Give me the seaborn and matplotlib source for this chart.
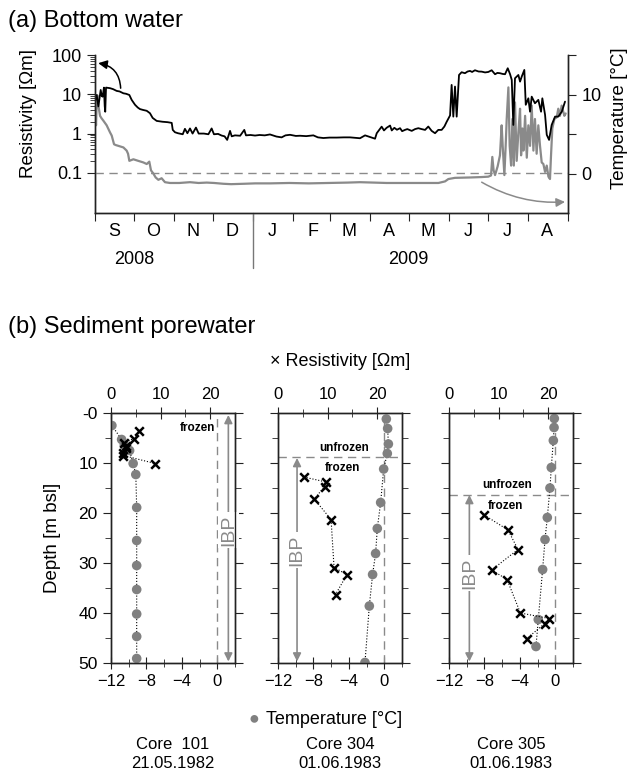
import matplotlib.pyplot as plt
import matplotlib.dates as mdates
import matplotlib.ticker as mticker
import seaborn as sns
import pandas as pd

# (a) bottom water logger, days after 1 Sep 2008
res_day = [0, 1.3, 2.6, 3.5, 4.4, 5.2, 5.9, 6.9, 7.5, 7.9, 8.5, 11.6, 14, 16.7, 19, 21.9, 24, 26.5,
           28.3, 30.9, 33, 34.7, 37, 39.9, 42.4, 44.5, 47.6, 52, 56, 59.2, 60, 61.7, 64, 67.7, 69.4,
           71.3, 73.3, 75.3, 77.9, 80, 84, 87.5, 90, 91.8, 95, 97.7, 100, 102, 104.2, 105.5, 108,
           112, 115.2, 116.5, 120, 123.5, 127, 131, 135, 140, 144, 147, 150.5, 155, 158.2, 163,
           168.5, 172, 176.2, 181, 186.5, 192, 196.8, 201, 204.5, 208.4, 212, 216.1, 217.4, 219,
           221.2, 223, 225, 227.7, 229, 231, 233, 235.4, 237, 239.2, 241, 244.4, 247, 249.5, 252,
           254.7, 257.2, 259.8, 262.4, 264.9, 267.5, 269.6, 271.4, 274, 275.2, 276.5, 277.8, 279.1,
           280.9, 282.9, 285.5, 287.5, 289.4, 291, 293.2, 296, 298.4, 301, 303.5, 306.1, 308.7,
           310.5, 312.5, 314.5, 316.4, 318.5, 320.3, 321.6, 322.8, 324.1, 326.7, 328, 329.3, 331.3,
           332.4, 334.4, 335.7, 337, 339.5, 342.1, 344.2, 345.2, 347.3, 348.6, 350.4, 352.4, 355,
           357.5, 360.2, 362.7]
res_ohm = [6.5, 9.6, 4.9, 8, 12.9, 9, 8.7, 14.8, 5, 3.6, 14.8, 14.3, 13.5, 12.2, 11.8, 10.6, 10.3, 9.6,
           7.2, 5.4, 4.6, 4.2, 4.0, 3.8, 3.3, 2.5, 2.1, 2.0, 1.95, 1.87, 1.24, 1.08, 1.02, 0.96, 1.32,
           1.02, 1.35, 1.0, 1.42, 1.0, 1.0, 0.96, 1.35, 0.96, 0.98, 0.89, 0.85, 0.69, 1.17, 0.85, 0.9,
           0.88, 1.24, 0.9, 0.92, 0.89, 0.92, 0.9, 0.95, 0.84, 0.8, 0.9, 0.93, 0.87, 0.88, 0.86,
           0.9, 0.8, 0.77, 0.79, 0.79, 0.8, 0.8, 0.78, 0.76, 0.9, 0.82, 0.74, 1.02, 1.2,
           1.5, 1.2, 1.4, 1.6, 1.2, 1.4, 1.25, 1.37, 1.15, 1.24, 1.3, 1.17, 1.3, 1.37, 1.3,
           1.24, 1.51, 1.17, 1.02, 1.24, 1.24, 1.51, 2.0, 2.9, 17.3, 2.7, 15.7, 2.7,
           31, 36.4, 34.4, 38, 39.3, 37, 40.9, 38, 37.7, 36, 37, 40.9, 32.4,
           35, 34.4, 33, 32.4, 46, 32.4, 23.2, 1.66, 25.6, 31, 21, 28.2, 41.7,
           5.4, 7.9, 3.6, 8.7, 5.9, 7.2, 3.6, 7.9, 3.0, 0.93, 0.69, 1.66, 2.7,
           2.7, 3.6, 6.5]

temp_day = [0, 0.8, 1.3, 1.8, 2.6, 3.9, 5, 6.4, 9.0, 11.6, 12.9, 14.7, 16, 18, 21.9, 24.4, 25.5, 26.5,
            29.6, 33.4, 37.3, 39.9, 41.9, 43.2, 45, 46.8, 48.9, 51.4, 54, 57.9, 65, 73.3, 80, 86.2,
            92, 99, 105, 115, 123.5, 135, 150, 165, 180, 195, 204.5, 215, 225, 239.2, 255, 265,
            270.1, 272.7, 277.8, 290, 298.4, 303.5, 305.6, 306.6, 307.6, 308.7, 310.7, 312.5, 313.8,
            314.6, 315.9, 316.9, 317.7, 319, 320, 321.1, 322.1, 323.2, 324.1, 325.4, 326.7, 328,
            328.8, 329.8, 330.6, 331.9, 333.2, 334.4, 335.7, 337, 338.3, 339.5, 340.8, 342.1, 343.4,
            344.7, 346, 347.3, 348.6, 349.9, 351.1, 351.9, 352.9, 354.5, 356.3, 357.5, 358.8, 360.1,
            362.2, 363.2]
temp_c = [8.6, 6.1, 9.0, 9.9, 8.6, 7.3, 7.0, 6.7, 6.1, 5.2, 4.8, 3.7, 3.6, 3.5, 3.3, 2.9, 2.5, 1.6,
          1.8, 1.6, 1.4, 1.2, 1.5, 0.4, 0.0, -0.5, -0.8, -0.6, -1.1, -1.2, -1.2, -1.1, -1.2, -1.15,
          -1.2, -1.3, -1.35, -1.3, -1.25, -1.25, -1.2, -1.25, -1.2, -1.15, -1.1, -1.15, -1.2, -1.2, -1.2, -1.2,
          -1.0, -0.7, -0.55, -0.5, -0.45, -0.4, -0.25, 2.1, 0.4, -0.2, 0.9, 2.3, 6.1,
          3.5, -0.2, 3.5, 6.9, 10.9, 3.5, 1.0, 6.9, 1.0, 9.0, 1.6, 5.2, 8.2,
          2.3, 5.7, 2.9, 7.3, 2.0, 6.1, 3.5, 8.6, 2.9, 6.9, 2.5, 6.1, 3.5,
          1.4, 1.2, 0.2, 1.0, -0.4, -0.7, 2.3, 5.7, 6.9, 7.1, 8.2, 7.3, 8.6,
          7.3, 7.6]

# (b) sediment cores
core_names = ['Core  101\n21.05.1982', 'Core 304\n01.06.1983', 'Core 305\n01.06.1983']
core_temp_depth = [[2.5, 5.3, 6.4, 7.5, 10.1, 12.3, 18.9, 25.5, 30.5, 35.3, 40.2, 44.7, 49.1],
                   [1.2, 3.1, 6.2, 8.1, 11.2, 17.9, 23.1, 28.1, 32.3, 38.6, 49.9],
                   [1.1, 2.9, 5.5, 10.9, 15.0, 20.9, 25.3, 31.3, 41.3, 46.7]]
core_temp = [[-11.9, -10.8, -10.5, -9.9, -9.5, -9.2, -9.1, -9.1, -9.1, -9.1, -9.1, -9.1, -9.1],
             [0.23, 0.38, 0.46, 0.34, -0.07, -0.41, -0.79, -0.98, -1.32, -1.69, -2.18],
             [-0.11, -0.14, -0.22, -0.45, -0.6, -0.9, -1.16, -1.43, -1.92, -2.18]]
core_res_depth = [[3.5, 5.1, 5.9, 6.6, 7.0, 8.0, 8.5, 10.1],
                  [12.8, 13.8, 14.7, 17.2, 21.3, 30.9, 32.3, 36.3],
                  [20.4, 23.4, 27.3, 31.4, 33.3, 40.0, 41.1, 42.1, 45.1]]
core_res = [[5.7, 4.7, 2.6, 3.0, 3.0, 2.5, 2.5, 8.9],
            [5.2, 9.7, 9.4, 7.3, 10.7, 11.3, 13.9, 11.6],
            [7.1, 11.9, 13.9, 8.6, 11.7, 14.4, 20.2, 19.3, 15.7]]
frozen_top = [None, 8.8, 16.4]

sns.set_style('ticks')
plt.rcParams['font.family'] = ['Liberation Sans', 'DejaVu Sans']
plt.rcParams.update({'axes.edgecolor': '#222222', 'axes.linewidth': 1.0,
                     'text.color': 'black', 'axes.labelcolor': 'black',
                     'xtick.color': '#222222', 'ytick.color': '#222222',
                     'xtick.labelcolor': 'black', 'ytick.labelcolor': 'black'})

W, H = 637, 771
fig = plt.figure(figsize=(W / 100, H / 100), dpi=100)
GREY = '#8a8a8a'

# ---------------- (a) Bottom water ----------------
start = pd.Timestamp('2008-09-01')
res_dates = start + pd.to_timedelta(res_day, unit='D')
temp_dates = start + pd.to_timedelta(temp_day, unit='D')

ax = fig.add_axes([95 / W, 1 - 213 / H, 473 / W, 158 / H])
ax2 = ax.twinx()
sns.lineplot(x=temp_dates, y=temp_c, ax=ax2, color=GREY, lw=1.6, estimator=None)
sns.lineplot(x=res_dates, y=res_ohm, ax=ax, color='black', lw=1.3, estimator=None)
ax.set_zorder(ax2.get_zorder() + 1)
ax.patch.set_visible(False)

ax.set_yscale('log')
ax.set_ylim(0.0095, 100)
ax2.set_ylim(-5, 15)
ax.set_xlim(mdates.date2num(start), mdates.date2num(pd.Timestamp('2009-09-01')))
ax.axhline(0.1, color=GREY, lw=1, ls=(0, (6, 4)))

for a in (ax, ax2):
    a.spines['top'].set_visible(False)
ax.yaxis.set_major_locator(mticker.FixedLocator([0.1, 1, 10, 100]))
ax.yaxis.set_major_formatter(mticker.FixedFormatter(['0.1', '1', '10', '100']))
ax.yaxis.set_minor_locator(mticker.FixedLocator(
    [m * d for d in (0.1, 1, 10) for m in range(2, 10)]))
ax.yaxis.set_minor_formatter(mticker.NullFormatter())
ax.tick_params(axis='y', which='major', length=6, labelsize=13, direction='out')
ax.tick_params(axis='y', which='minor', length=3.5, direction='out')

ax2.set_yticks([0, 5, 10, 15])
ax2.set_yticklabels(['0', '', '10', ''])
ax2.tick_params(axis='y', length=6, labelsize=13, direction='out')

ax.xaxis.set_major_locator(mdates.MonthLocator())
ax.xaxis.set_major_formatter(mticker.NullFormatter())
ax.xaxis.set_minor_locator(mdates.MonthLocator(bymonthday=16))
ax.xaxis.set_minor_formatter(mticker.FuncFormatter(
    lambda v, pos: mdates.num2date(v).strftime('%b')[0]))
ax.tick_params(axis='x', which='major', length=6, direction='out')
ax.tick_params(axis='x', which='minor', length=0, labelsize=13, pad=7)
ax.set_xlabel('')

xt = ax.get_xaxis_transform()
ax.text(mdates.date2num(pd.Timestamp('2008-10-01')), -0.295, '2008', transform=xt,
        ha='center', va='center', fontsize=13)
ax.text(mdates.date2num(pd.Timestamp('2009-05-01')), -0.295, '2009', transform=xt,
        ha='center', va='center', fontsize=13)
jan = mdates.date2num(pd.Timestamp('2009-01-01'))
ax.plot([jan, jan], [0, -0.345], transform=xt, color='#777777', lw=1, clip_on=False)

ax.set_ylabel('Resistivity [\u03a9m]', fontsize=13.5)
ax.yaxis.set_label_coords(-0.122, 0.63)
ax2.set_ylabel('Temperature [\u00b0C]', fontsize=13.5)
ax2.yaxis.set_label_coords(1.09, 0.6)

ax.annotate('', xy=(mdates.date2num(start + pd.Timedelta(days=2.5)), 62),
            xytext=(mdates.date2num(start + pd.Timedelta(days=19.8)), 14.3),
            arrowprops=dict(arrowstyle='-|>', color='black', lw=1.1, mutation_scale=13,
                            connectionstyle='arc3,rad=0.4', shrinkA=0, shrinkB=0))
ax2.annotate('', xy=(mdates.date2num(start + pd.Timedelta(days=362.7)), -3.6),
             xytext=(mdates.date2num(start + pd.Timedelta(days=298.4)), -1.1),
             arrowprops=dict(arrowstyle='-|>', color=GREY, lw=1.1, mutation_scale=13,
                             connectionstyle='arc3,rad=0.15', shrinkA=0, shrinkB=0))

fig.text(8 / W, 1 - 21 / H, '(a) Bottom water', fontsize=17, va='center', ha='left')

# ---------------- (b) Sediment porewater ----------------
fig.text(8 / W, 1 - 327 / H, '(b) Sediment porewater', fontsize=17, va='center', ha='left')

lefts = [111, 278, 449]
ibp = [(1.25, 0.4, 49.7, 23.4), (-9.85, 9.0, 49.7, 27.4), (-9.7, 16.4, 49.7, 32.0)]
labels_pos = [[('frozen', -0.3, 3.0, 'right')],
              [('unfrozen', -4.5, 7.0, 'center'), ('frozen', -4.75, 11.0, 'center')],
              [('unfrozen', -5.4, 14.4, 'center'), ('frozen', -5.6, 18.6, 'center')]]

for i in range(3):
    bx = fig.add_axes([lefts[i] / W, 1 - 663 / H, 124 / W, 250 / H])
    sns.lineplot(x=core_temp[i], y=core_temp_depth[i], ax=bx, sort=False, estimator=None,
                 color='black', lw=0.8, linestyle=':')
    sns.scatterplot(x=core_temp[i], y=core_temp_depth[i], ax=bx, color='#808080', s=48,
                    edgecolor='none', zorder=3)
    bx.set_xlim(-12, 2)
    bx.set_ylim(50, 0)
    bx.axvline(0, color=GREY, lw=1, ls=(0, (6, 4)), zorder=1)
    if frozen_top[i] is not None:
        bx.axhline(frozen_top[i], color=GREY, lw=1, ls=(0, (6, 4)), zorder=1)

    x, y0, y1, ym = ibp[i]
    bx.annotate('', xy=(x, y0), xytext=(x, y1),
                arrowprops=dict(arrowstyle='<|-|>', color=GREY, lw=1.2, mutation_scale=12,
                                shrinkA=0, shrinkB=0))
    bx.text(x, ym, 'IBP', rotation=90, ha='center', va='center', color=GREY, fontsize=14,
            bbox=dict(fc='white', ec='none', pad=1.5))
    for txt, tx, ty, ha in labels_pos[i]:
        bx.text(tx, ty, txt, ha=ha, va='center', fontsize=8.5, fontweight='bold')

    bx.set_xticks([-12, -8, -4, 0])
    bx.set_xticks([-10, -6, -2, 2], minor=True)
    bx.set_yticks(range(0, 51, 10))
    bx.set_yticks(range(5, 50, 10), minor=True)
    bx.tick_params(axis='x', which='major', direction='inout', length=9, labelsize=12)
    bx.tick_params(axis='x', which='minor', direction='inout', length=6)
    bx.tick_params(axis='y', which='both', left=True, right=True, direction='out')
    bx.tick_params(axis='y', which='major', length=6, labelsize=12.5)
    bx.tick_params(axis='y', which='minor', length=4)
    bx.set_xlabel('')
    if i == 0:
        bx.set_yticklabels(['-0', '10', '20', '30', '40', '50'])
        bx.set_ylabel('Depth [m bsl]', fontsize=13.5)
        bx.yaxis.set_label_coords(-0.40, 0.5)
    else:
        bx.tick_params(axis='y', labelleft=False)
        bx.set_ylabel('')

    tx_ = bx.twiny()
    sns.lineplot(x=core_res[i], y=core_res_depth[i], ax=tx_, sort=False, estimator=None,
                 color='black', lw=0.8, linestyle=':')
    sns.scatterplot(x=core_res[i], y=core_res_depth[i], ax=tx_, marker='x', color='black',
                    s=38, linewidth=1.8, zorder=4)
    tx_.set_xlim(0, 25)
    bx.set_ylim(50, 0)
    tx_.set_xticks([0, 10, 20])
    tx_.set_xticks([5, 15], minor=True)
    tx_.tick_params(axis='x', which='major', direction='inout', length=9, labelsize=12)
    tx_.tick_params(axis='x', which='minor', direction='inout', length=6)
    tx_.set_xlabel('')

    cx = (lefts[i] + 62) / W
    fig.text(cx, 1 - 754 / H, core_names[i], ha='center', va='center', fontsize=12,
             linespacing=1.3)

fig.text(340 / W, 1 - 362 / H, '\u00d7 Resistivity [\u03a9m]', ha='center', va='center',
         fontsize=13)
fig.text(254 / W, 1 - 719 / H, '\u25cf', ha='center', va='center', fontsize=13, color='#808080')
fig.text(266 / W, 1 - 719 / H, 'Temperature [\u00b0C]', ha='left', va='center', fontsize=13)

fig.savefig('out.png', dpi=100)
